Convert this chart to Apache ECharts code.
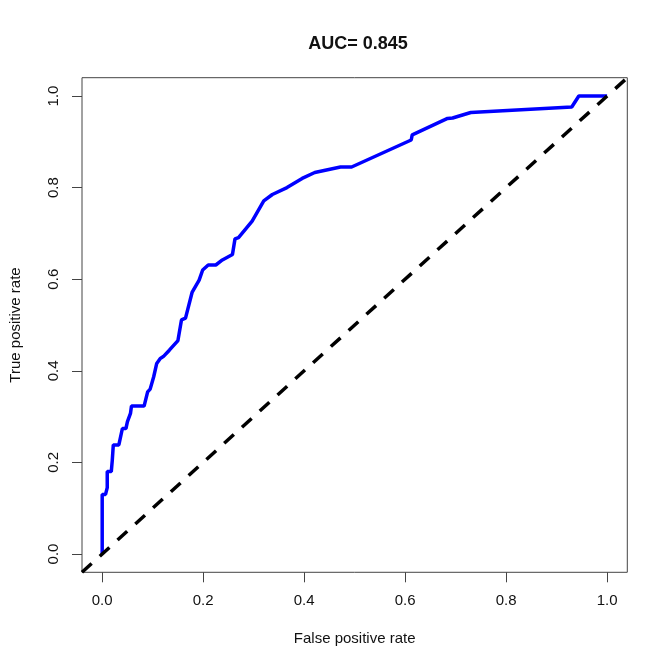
<!DOCTYPE html>
<html>
<head>
<meta charset="utf-8">
<script src="https://cdn.jsdelivr.net/npm/echarts@6/dist/echarts.min.js"></script>
<style>
html,body{margin:0;padding:0;background:#fff;}
#c{width:669px;height:669px;}
</style>
</head>
<body>
<div id="c"></div>
<script>
const titleText = 'AUC= 0.845';
const xName = 'False positive rate';
const yName = 'True positive rate';
const tickValues = [0, 0.2, 0.4, 0.6, 0.8, 1.0];
const fpr = [0,0,0.0066,0.01,0.01,0.018,0.02,0.022,0.033,0.04,0.047,0.05,0.056,0.058,0.083,0.09,0.095,0.102,0.108,0.115,0.121,0.133,0.15,0.157,0.165,0.178,0.192,0.199,0.21,0.225,0.238,0.258,0.263,0.27,0.297,0.32,0.337,0.366,0.396,0.421,0.472,0.494,0.612,0.614,0.684,0.694,0.73,0.93,0.944,1.0];
const tpr = [0,0.13,0.13,0.145,0.18,0.18,0.205,0.238,0.238,0.274,0.274,0.289,0.307,0.323,0.323,0.354,0.36,0.387,0.416,0.427,0.431,0.445,0.466,0.511,0.515,0.571,0.598,0.62,0.631,0.631,0.642,0.654,0.688,0.691,0.727,0.771,0.785,0.8,0.82,0.833,0.845,0.845,0.904,0.915,0.951,0.952,0.964,0.976,1.0,1.0];
const diagX = [-0.04, 1.04];
const diagY = [-0.04, 1.04];

const font = '"Liberation Sans", Arial, sans-serif';
const chart = echarts.init(document.getElementById('c'), null, {renderer: 'canvas'});
const axisCommon = {
  type: 'value', min: -0.04, max: 1.04,
  axisLine: {show: false, onZero: false},
  splitLine: {show: false},
  axisTick: {show: true, inside: false, length: 10, customValues: tickValues, lineStyle: {color: '#444', width: 1}},
  axisLabel: {customValues: tickValues, margin: 21, color: '#111', fontSize: 15, fontFamily: font,
    formatter: v => v.toFixed(1)},
  nameLocation: 'middle', nameGap: 59,
  nameTextStyle: {color: '#111', fontSize: 15, fontFamily: font}
};
chart.setOption({
  animation: false,
  backgroundColor: '#fff',
  title: {text: titleText, left: 353, top: 30, textAlign: 'center',
    textStyle: {fontSize: 18, fontWeight: 'bold', color: '#111', fontFamily: font}},
  grid: {left: 78.7, top: 77.7, width: 548.6, height: 494.6, show: true,
    borderColor: '#444', borderWidth: 1, backgroundColor: 'transparent'},
  xAxis: Object.assign({}, axisCommon, {name: xName}),
  yAxis: Object.assign({}, axisCommon, {name: yName,
    axisLabel: Object.assign({}, axisCommon.axisLabel, {rotate: 90})}),
  series: [
    {type: 'line', data: fpr.map((x, i) => [x, tpr[i]]), showSymbol: false, symbol: 'none',
      lineStyle: {color: '#0000FF', width: 3.5}, z: 2, clip: true},
    {type: 'line', data: diagX.map((x, i) => [x, diagY[i]]), showSymbol: false, symbol: 'none',
      lineStyle: {color: '#000', width: 3.5, type: [13, 11], cap: 'butt'}, z: 3, clip: true}
  ]
});
</script>
</body>
</html>
